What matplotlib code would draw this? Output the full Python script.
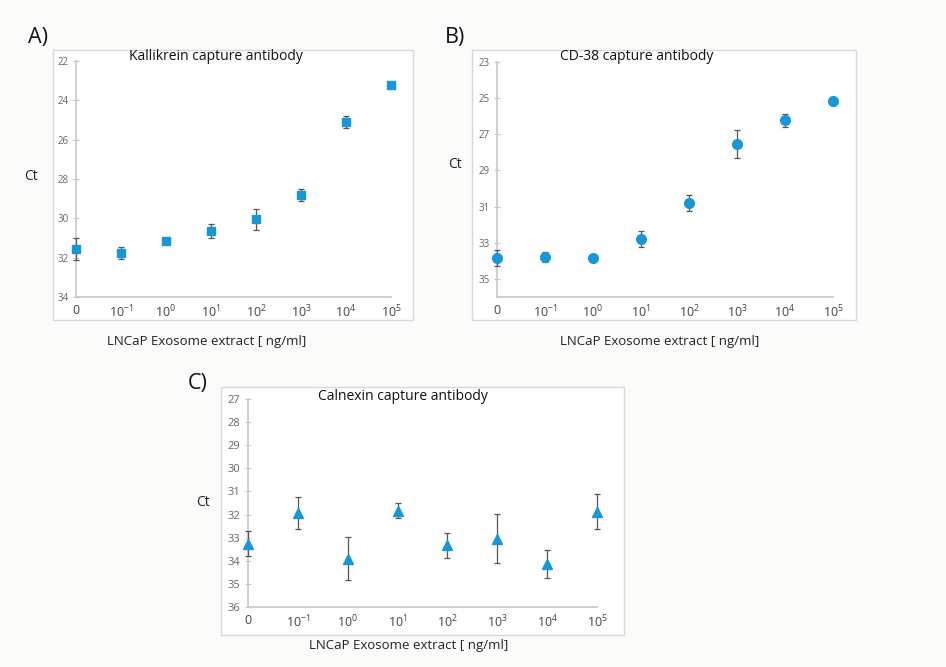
import numpy as np
import matplotlib
matplotlib.use("Agg")
from matplotlib import pyplot as plt
from matplotlib.patches import Rectangle

plt.rcParams['font.family'] = ['Open Sans', 'DejaVu Sans']
plt.rcParams['mathtext.fontset'] = 'custom'
plt.rcParams['mathtext.rm'] = 'Open Sans'

# Data
conc_labels = ['0', '$10^{-1}$', '$10^{0}$', '$10^{1}$', '$10^{2}$', '$10^{3}$', '$10^{4}$', '$10^{5}$']

kallikrein_ct = [31.55, 31.78, 31.15, 30.64, 30.05, 28.81, 25.10, 23.22]
kallikrein_err = [0.55, 0.30, 0.0, 0.35, 0.54, 0.30, 0.30, 0.0]

cd38_ct = [33.84, 33.77, 33.82, 32.79, 30.80, 27.53, 26.23, 25.16]
cd38_err = [0.43, 0.28, 0.0, 0.42, 0.45, 0.77, 0.37, 0.22]

calnexin_ct = [33.26, 31.93, 33.91, 31.83, 33.33, 33.04, 34.15, 31.88]
calnexin_err = [0.53, 0.68, 0.92, 0.32, 0.54, 1.07, 0.60, 0.76]

W, H = 946, 667
BLUE = '#1797d4'
SPINE = '#c8c8c8'


def px(x0, y0, x1, y1):
    # pixel box -> figure fraction [left, bottom, width, height]
    return [x0 / W, 1 - y1 / H, (x1 - x0) / W, (y1 - y0) / H]


def panel(fig, box, frame, ydata, yerr, marker, ms, ylim, yticks, ytick_size,
          title, title_xy, letter, letter_xy, ct_xy, xl_xy):
    # light frame around each panel (behind the axes)
    fig.patches.append(Rectangle((frame[0] / W, 1 - frame[3] / H), (frame[2] - frame[0]) / W,
                                 (frame[3] - frame[1]) / H, transform=fig.transFigure,
                                 facecolor='white', edgecolor='#d9d9d9', lw=1.0, zorder=-5))
    ax = fig.add_axes(px(*box))
    ax.patch.set_alpha(0)
    x = np.arange(len(ydata))
    ax.errorbar(x, ydata, yerr=yerr, fmt=marker, color=BLUE, ms=ms, ecolor='#555555',
                elinewidth=0.9, capsize=2.5, capthick=0.9, clip_on=False, zorder=3)
    ax.set_xlim(0, 7)
    ax.set_ylim(ylim[1], ylim[0])
    ax.set_yticks(yticks)
    ax.set_xticks(x)
    ax.set_xticklabels(conc_labels)
    for s in ['top', 'right']:
        ax.spines[s].set_visible(False)
    for s in ['left', 'bottom']:
        ax.spines[s].set_color(SPINE)
        ax.spines[s].set_linewidth(1.2)
    ax.tick_params(axis='y', colors=SPINE, labelcolor='#666666', labelsize=ytick_size, length=4, direction='inout')
    ax.tick_params(axis='x', length=0, labelsize=9, labelcolor='#444444', pad=5)
    fig.text(title_xy[0] / W, 1 - title_xy[1] / H, title, ha='center', va='center', fontsize=10, color='#111111')
    fig.text(letter_xy[0] / W, 1 - letter_xy[1] / H, letter, ha='left', va='center', fontsize=15.5, color='#111111')
    fig.text(ct_xy[0] / W, 1 - ct_xy[1] / H, 'Ct', ha='center', va='center', fontsize=10, color='#222222')
    fig.text(xl_xy[0] / W, 1 - xl_xy[1] / H, 'LNCaP Exosome extract [ ng/ml]', ha='center', va='center',
             fontsize=9.5, color='#222222')
    return ax


fig = plt.figure(figsize=(W / 100, H / 100), dpi=100)
fig.patch.set_facecolor('#fbfbfa')

panel(fig, (76, 61, 391, 297), (53, 50, 413, 320), kallikrein_ct, kallikrein_err, 's', 6,
      (22, 34), np.arange(22, 35, 2), 7, 'Kallikrein capture antibody', (216, 57), 'A)', (28, 38), (31, 176), (207, 342))

panel(fig, (497, 62, 833, 297), (472, 50, 856, 320), cd38_ct, cd38_err, 'o', 7,
      (23, 36), np.arange(23, 36, 2), 7, 'CD-38 capture antibody', (637, 57), 'B)', (445, 38), (455, 165), (660, 342))

panel(fig, (248, 399, 597, 607), (221, 387, 624, 635), calnexin_ct, calnexin_err, '^', 7.5,
      (27, 36), np.arange(27, 37, 1), 8, 'Calnexin capture antibody', (403, 397), 'C)', (188, 383), (203, 503), (409, 645))

fig.savefig('out.png', dpi=100, facecolor=fig.get_facecolor())
